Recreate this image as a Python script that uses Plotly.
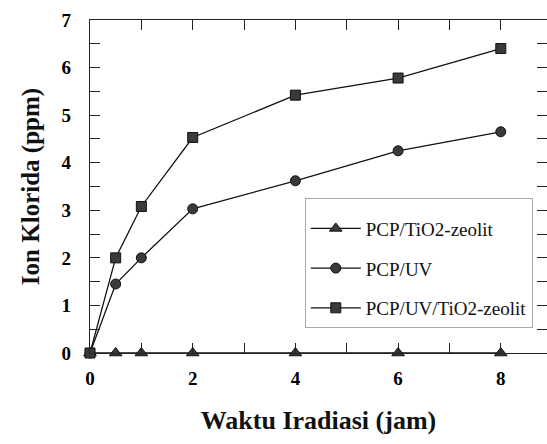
import plotly.graph_objects as go

waktu = [0, 0.5, 1, 2, 4, 6, 8]
tio2_zeolit = [0, 0, 0, 0, 0, 0, 0]
pcp_uv = [0, 1.45, 2.0, 3.03, 3.62, 4.25, 4.65]
pcp_uv_tio2 = [0, 2.0, 3.08, 4.53, 5.42, 5.78, 6.4]

series = [
    ("PCP/TiO2-zeolit", tio2_zeolit, "triangle-up", 11),
    ("PCP/UV", pcp_uv, "circle", 10),
    ("PCP/UV/TiO2-zeolit", pcp_uv_tio2, "square", 10),
]

FONT = "Liberation Serif"
fig = go.Figure()
for i, (name, vals, sym, sz) in enumerate(series):
    fig.add_trace(go.Scatter(
        x=waktu, y=vals, name=name, mode="lines+markers",
        line=dict(color="#111", width=1.3),
        marker=dict(symbol=sym, size=sz, color="#3a3a3a", line=dict(color="#111", width=1)),
        cliponaxis=False, legendgroup=f"g{i}",
    ))

axis_common = dict(
    showline=True, linecolor="#222", linewidth=1.3, mirror="ticks",
    ticks="inside", ticklen=10, tickwidth=1.2, tickcolor="#222",
    showgrid=False, zeroline=False,
    tickfont=dict(family=FONT, size=19, color="#000", weight="bold"),
)

fig.update_layout(
    width=547, height=444,
    margin=dict(l=90, r=0, t=20, b=91),
    paper_bgcolor="white", plot_bgcolor="white",
    font=dict(family=FONT),
    xaxis=dict(range=[0, 8.9], tickvals=[0, 2, 4, 6, 8],
               minor=dict(tickvals=[1, 3, 5, 7], ticks="inside", ticklen=10, tickcolor="#222", tickwidth=1.2),
               title=dict(text="Waktu Iradiasi (jam)", font=dict(family=FONT, size=26, color="#111", weight="bold"), standoff=22),
               ticklabelstandoff=8,
               **axis_common),
    yaxis=dict(range=[0, 7], tickvals=list(range(8)),
               minor=dict(tickvals=[0.5 + k for k in range(7)], ticks="inside", ticklen=10, tickcolor="#222", tickwidth=1.2),
               title=dict(text="Ion Klorida (ppm)", font=dict(family=FONT, size=25, color="#111", weight="bold"), standoff=14),
               ticklabelstandoff=14,
               **axis_common),
    legend=dict(x=0.47, y=0.465, xanchor="left", yanchor="top",
                bgcolor="white", bordercolor="#aaa", borderwidth=1,
                font=dict(family=FONT, size=19, color="#111"),
                title=dict(text=" ", font=dict(size=8)),
                tracegroupgap=12, traceorder="grouped", itemwidth=50),
    showlegend=True,
)

fig.write_html("out.html")
